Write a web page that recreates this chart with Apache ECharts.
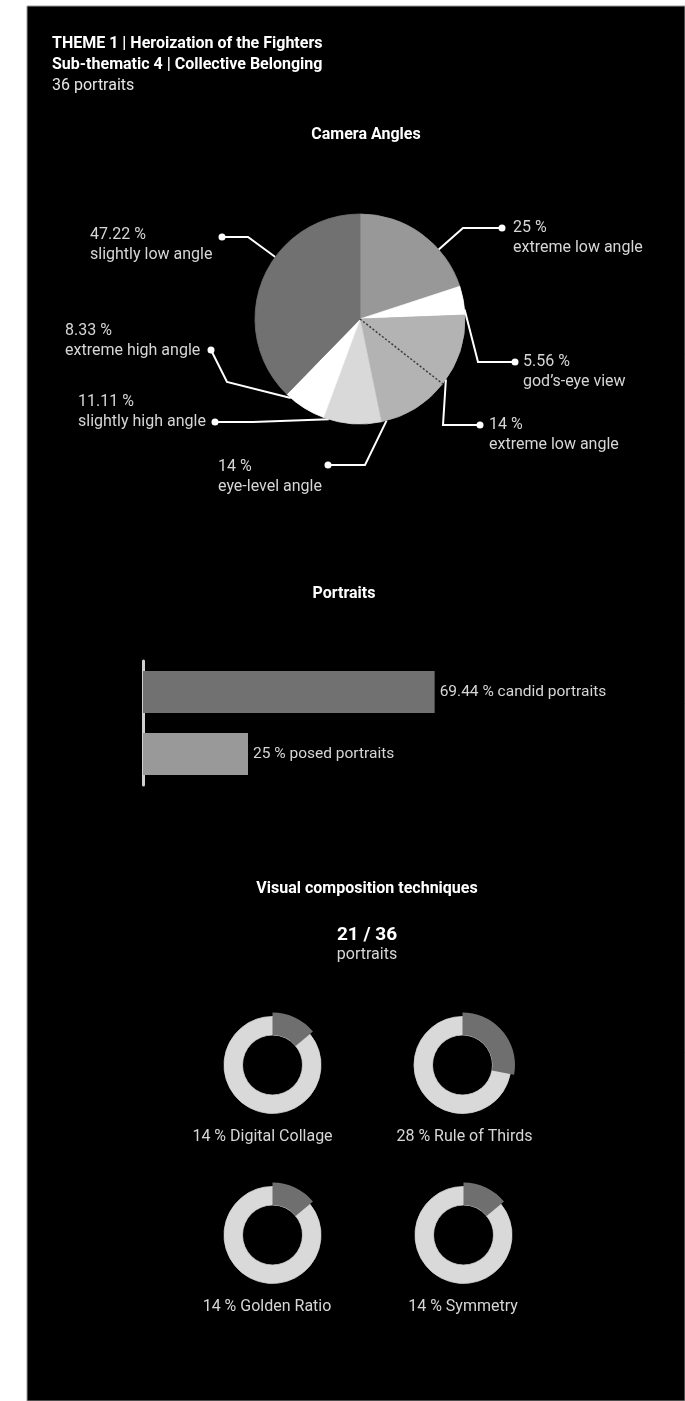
<!DOCTYPE html>
<html>
<head>
<meta charset="utf-8">
<script src="https://cdn.jsdelivr.net/npm/echarts@6/dist/echarts.min.js"></script>
<style>
  html, body { margin: 0; padding: 0; background: #ffffff; }
  #chart { width: 685px; height: 1401px; }
</style>
</head>
<body>
<div id="chart"></div>
<script>
// ---- data ----
const headerLines = ['THEME 1 | Heroization of the Fighters', 'Sub-thematic 4 | Collective Belonging', '36 portraits'];

const angleNames = ['extreme low angle', 'god\u2019s-eye view', 'extreme low angle', 'eye-level angle',
                    'slightly high angle', 'extreme high angle', 'slightly low angle'];
const angleValues = [25, 5.56, 14, 14, 11.11, 8.33, 47.22];

const portraitNames = ['candid portraits', 'posed portraits'];
const portraitValues = [69.44, 25];

const techniqueCount = [21, 36];
const techniqueNames = ['Digital Collage', 'Rule of Thirds', 'Golden Ratio', 'Symmetry'];
const techniqueValues = [14, 28, 14, 14];

// ---- styling / layout ----
const FONT = 'Roboto, "DejaVu Sans", sans-serif';
const TEXT = '#d6d6d6';
const angleColors = ['#989898', '#ffffff', '#b3b3b3', '#b3b3b3', '#d9d9d9', '#ffffff', '#717171'];

const cx = 360, cy = 319, R = 105;

// where each pie label sits: elbow of its leader line, end dot, text block top-left
const labelSpots = [
  { bend: [463, 228], dot: [502, 228], x: 513, y: 218 },
  { bend: [478, 362], dot: [515, 362], x: 523, y: 352 },
  { bend: [443, 425], dot: [480, 425], x: 489, y: 415 },
  { bend: [365, 465], dot: [328, 465], x: 218, y: 457 },
  { bend: [253, 422], dot: [215, 422], x: 78,  y: 392 },
  { bend: [227, 382], dot: [211, 350], x: 65,  y: 321 },
  { bend: [248, 237], dot: [222, 237], x: 90,  y: 225 }
];

// slice angular extents (degrees clockwise from 12 o'clock)
const angleTotal = angleValues.reduce((a, b) => a + b, 0);
const sliceBounds = [];
(function () {
  let acc = 0;
  angleValues.forEach(v => { const s = acc; acc += v / angleTotal * 360; sliceBounds.push([s, acc]); });
})();

function polar(deg, r) {
  const a = deg * Math.PI / 180;
  return [cx + r * Math.sin(a), cy - r * Math.cos(a)];
}
// leader line starts on the slice rim, as close to its elbow as the slice allows
function rimPoint(i) {
  const b = labelSpots[i].bend;
  let ang = Math.atan2(b[0] - cx, -(b[1] - cy)) * 180 / Math.PI;
  if (ang < 0) ang += 360;
  const s = sliceBounds[i][0], e = sliceBounds[i][1];
  const m = Math.min(3, (e - s) / 4);
  ang = Math.max(s + m, Math.min(e - m, ang));
  return polar(ang, R);
}

const donutCenters = [[272.5, 1065], [462.5, 1065], [272.5, 1235], [463.5, 1235]];
const donutLabelPos = [[262.5, 1137], [464.5, 1137], [267, 1307], [463, 1307]];

function txt(text, x, y, opts) {
  opts = opts || {};
  return {
    type: 'text', z: 20, silent: true,
    style: {
      text: text, x: x, y: y,
      fill: opts.fill || TEXT,
      font: (opts.weight || 'normal') + ' ' + (opts.size || 16) + 'px ' + FONT,
      textAlign: opts.align || 'left', align: opts.align || 'left',
      textVerticalAlign: 'middle', verticalAlign: 'middle'
    }
  };
}

const graphics = [
  { type: 'rect', z: -10, silent: true, shape: { x: 27, y: 6, width: 658, height: 1395 },
    style: { fill: '#000000', stroke: '#9a9a9a', lineWidth: 1 } },
  txt(headerLines[0], 52, 44, { weight: 'bold', fill: '#ffffff' }),
  txt(headerLines[1], 52, 65, { weight: 'bold', fill: '#ffffff' }),
  txt(headerLines[2], 52, 86, { fill: '#e6e6e6' }),
  txt('Camera Angles', 366, 135, { weight: 'bold', fill: '#ffffff', align: 'center' }),
  txt('Portraits', 344, 594, { weight: 'bold', fill: '#ffffff', align: 'center' }),
  txt('Visual composition techniques', 367, 889, { weight: 'bold', fill: '#ffffff', align: 'center' }),
  txt(techniqueCount[0] + ' / ' + techniqueCount[1], 367, 935, { weight: 'bold', fill: '#ffffff', align: 'center', size: 19 }),
  txt('portraits', 367, 955, { align: 'center', size: 16 })
];

// end dots of the pie leader lines
labelSpots.forEach(sp => {
  graphics.push({ type: 'circle', z: 30, silent: true, shape: { cx: sp.dot[0], cy: sp.dot[1], r: 3.5 },
    style: { fill: '#ffffff' } });
});

// dotted divider between the two 14 % slices
(function () {
  const p = polar(sliceBounds[3][0], R);
  graphics.push({ type: 'line', z: 30, silent: true, shape: { x1: cx, y1: cy, x2: p[0], y2: p[1] },
    style: { stroke: '#3c3c3c', lineWidth: 1.5, lineDash: [2, 2] } });
})();

// donut captions
techniqueNames.forEach((n, i) => {
  graphics.push(txt(techniqueValues[i] + ' % ' + n, donutLabelPos[i][0], donutLabelPos[i][1],
    { align: 'center', size: 16 }));
});

const series = [];

series.push({
  type: 'pie',
  center: [cx, cy],
  radius: R,
  startAngle: 90,
  clockwise: true,
  silent: true,
  avoidLabelOverlap: false,
  data: angleValues.map((v, i) => ({
    value: v, name: angleNames[i],
    itemStyle: { color: angleColors[i], borderColor: angleColors[i], borderWidth: 0.8 }
  })),
  label: {
    show: true,
    position: 'outside',
    formatter: p => '{p|' + p.value + ' %}\n{n|' + p.name + '}',
    rich: {
      p: { fontFamily: FONT, fontSize: 16, color: TEXT, lineHeight: 20 },
      n: { fontFamily: FONT, fontSize: 16, color: TEXT, lineHeight: 20 }
    }
  },
  labelLine: { show: true, smooth: false, lineStyle: { color: '#ffffff', width: 2 } },
  labelLayout: function (params) {
    const i = params.dataIndex;
    const sp = labelSpots[i];
    return {
      x: sp.x, y: sp.y, align: 'left', verticalAlign: 'top',
      labelLinePoints: [rimPoint(i), sp.bend.slice(), sp.dot.slice()]
    };
  }
});

series.push({
  type: 'bar',
  xAxisIndex: 0, yAxisIndex: 0,
  barWidth: 42,
  silent: true,
  data: portraitValues.map((v, i) => ({ value: v, itemStyle: { color: i === 0 ? '#717171' : '#999999' } })),
  label: {
    show: true, position: 'right', distance: 5,
    fontFamily: FONT, fontSize: 15.5, color: TEXT,
    formatter: p => p.value + ' % ' + portraitNames[p.dataIndex]
  }
});

techniqueValues.forEach((v, i) => {
  series.push({
    type: 'pie', silent: true, center: donutCenters[i], radius: [30, 48.5],
    startAngle: 90, clockwise: true, label: { show: false }, labelLine: { show: false },
    data: [{ value: v, itemStyle: { color: '#d9d9d9' } }, { value: 100 - v, itemStyle: { color: '#d9d9d9' } }],
    itemStyle: { borderColor: '#d9d9d9', borderWidth: 0.8 }
  });
  series.push({
    type: 'pie', silent: true, center: donutCenters[i], radius: [30, 52.5],
    startAngle: 90, clockwise: true, label: { show: false }, labelLine: { show: false },
    data: [{ value: v, itemStyle: { color: '#6f6f6f' } }, { value: 100 - v, itemStyle: { color: 'rgba(0,0,0,0)' } }],
    itemStyle: { borderWidth: 0 }
  });
});

const chart = echarts.init(document.getElementById('chart'), null, { renderer: 'canvas' });
chart.setOption({
  backgroundColor: '#ffffff',
  animation: false,
  grid: { left: 143, top: 661, width: 420, height: 124 },
  xAxis: { type: 'value', min: 0, max: 100, show: false },
  yAxis: {
    type: 'category', data: portraitNames, inverse: true, offset: 4,
    axisLine: { show: true, lineStyle: { color: '#cfcfcf', width: 3 } },
    axisTick: { show: false }, axisLabel: { show: false }, splitLine: { show: false }
  },
  graphic: { elements: graphics },
  series: series
});
</script>
</body>
</html>
